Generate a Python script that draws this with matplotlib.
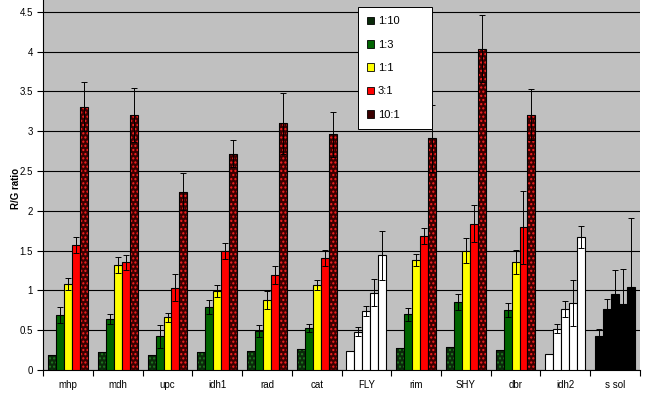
import numpy as np
import matplotlib
matplotlib.use("Agg")
import matplotlib.pyplot as plt

plt.rcParams['font.family'] = ['Liberation Sans', 'DejaVu Sans']

genes = ['mhp', 'mdh', 'upc', 'idh1', 'rad', 'cat', 'FLY', 'rim', 'SHY', 'dbr', 'idh2', 's sol']
series = ['1:10', '1:3', '1:1', '3:1', '10:1']

# ratio values per series (one value per gene)
r_1_10 = [0.19, 0.23, 0.19, 0.23, 0.24, 0.26, 0.24, 0.28, 0.29, 0.25, 0.20, 0.42]
r_1_3 = [0.69, 0.64, 0.42, 0.79, 0.49, 0.53, 0.48, 0.70, 0.85, 0.75, 0.52, 0.77]
r_1_1 = [1.08, 1.32, 0.66, 0.99, 0.88, 1.07, 0.74, 1.38, 1.50, 1.36, 0.77, 0.96]
r_3_1 = [1.57, 1.35, 1.03, 1.49, 1.19, 1.41, 0.97, 1.68, 1.84, 1.79, 0.84, 0.83]
r_10_1 = [3.31, 3.20, 2.24, 2.72, 3.10, 2.96, 1.44, 2.91, 4.04, 3.21, 1.67, 1.04]

# error (standard deviation) per series
e_1_10 = [0, 0, 0, 0, 0, 0, 0, 0, 0, 0, 0, 0.10]
e_1_3 = [0.10, 0.06, 0.14, 0.09, 0.08, 0.05, 0.06, 0.08, 0.10, 0.09, 0.06, 0.12]
e_1_1 = [0.07, 0.10, 0.06, 0.08, 0.11, 0.06, 0.06, 0.08, 0.16, 0.15, 0.10, 0.29]
e_3_1 = [0.10, 0.09, 0.17, 0.10, 0.11, 0.10, 0.17, 0.10, 0.23, 0.46, 0.29, 0.44]
e_10_1 = [0.31, 0.34, 0.23, 0.17, 0.38, 0.28, 0.31, 0.42, 0.42, 0.32, 0.14, 0.87]

values = [r_1_10, r_1_3, r_1_1, r_3_1, r_10_1]
errors = [e_1_10, e_1_3, e_1_1, e_3_1, e_10_1]

face = ['#0a2a0a', '#006400', '#ffff00', '#ff0000', '#3a0000']
hatch_col = ['#1f7a1f', None, None, None, '#ff2020']
special = {'FLY': 'white', 'idh2': 'white', 's sol': 'black'}

fig = plt.figure(figsize=(6.45, 3.96), dpi=100)
ax = fig.add_axes([0.067, 0.066, 0.925, 0.934])
ax.set_facecolor('#c0c0c0')

x = np.arange(len(genes))
w = 0.16
for i, s in enumerate(series):
    pos = x + (i - 2) * w
    for j, g in enumerate(genes):
        if g not in special and hatch_col[i] is not None:
            ax.bar(pos[j], values[i][j], w, color=face[i], edgecolor=hatch_col[i],
                   hatch='....', linewidth=0, zorder=3)
            ax.bar(pos[j], values[i][j], w, fill=False, edgecolor='black',
                   linewidth=0.8, zorder=3)
        else:
            ax.bar(pos[j], values[i][j], w, color=special.get(g, face[i]),
                   edgecolor='black', linewidth=0.8, zorder=3)
    err = np.array(errors[i])
    mask = err > 0
    ax.errorbar(pos[mask], np.array(values[i])[mask], yerr=err[mask], fmt='none',
                ecolor='black', elinewidth=0.7, capsize=2, capthick=0.7, zorder=4)

handles = [plt.Rectangle((0, 0), 1, 1, facecolor=face[i], edgecolor='black',
                         linewidth=0.6) for i in range(len(series))]
leg = ax.legend(handles, series, loc='upper left',
                bbox_to_anchor=(0.527, 0.98, 0.125, 0.0), mode='expand',
                fontsize=8, frameon=True, fancybox=False, edgecolor='black',
                framealpha=1, labelspacing=1.2, handlelength=0.7,
                handleheight=0.7, handletextpad=0.3, borderpad=0.8,
                borderaxespad=0)
leg.get_frame().set_linewidth(0.7)
leg.set_zorder(10)

ax.set_xlim(-0.5, len(genes) - 0.5)
ax.set_ylim(0, 4.65)
ax.set_yticks(np.arange(0, 4.51, 0.5))
ax.set_yticklabels(['0', '0.5', '1', '1.5', '2', '2.5', '3', '3.5', '4', '4.5'])
ax.yaxis.grid(True, color='black', linewidth=0.8, zorder=0)
ax.set_axisbelow(True)

ax.set_xticks(x)
ax.set_xticklabels(genes)
ax.set_xticks(np.arange(-0.5, len(genes)), minor=True)
ax.tick_params(axis='x', which='major', length=0, labelsize=7, pad=7)
ax.tick_params(axis='x', which='minor', length=4, width=0.8, direction='out')
ax.tick_params(axis='y', labelsize=7, length=4, width=0.8)

for sp in ['top', 'right']:
    ax.spines[sp].set_visible(False)
ax.spines['left'].set_linewidth(0.8)
ax.spines['bottom'].set_linewidth(0.8)

ax.set_ylabel('R/G ratio', fontsize=7, fontweight='bold')
ax.yaxis.set_label_coords(-0.038, 0.49)

fig.savefig('out.png', dpi=100)
